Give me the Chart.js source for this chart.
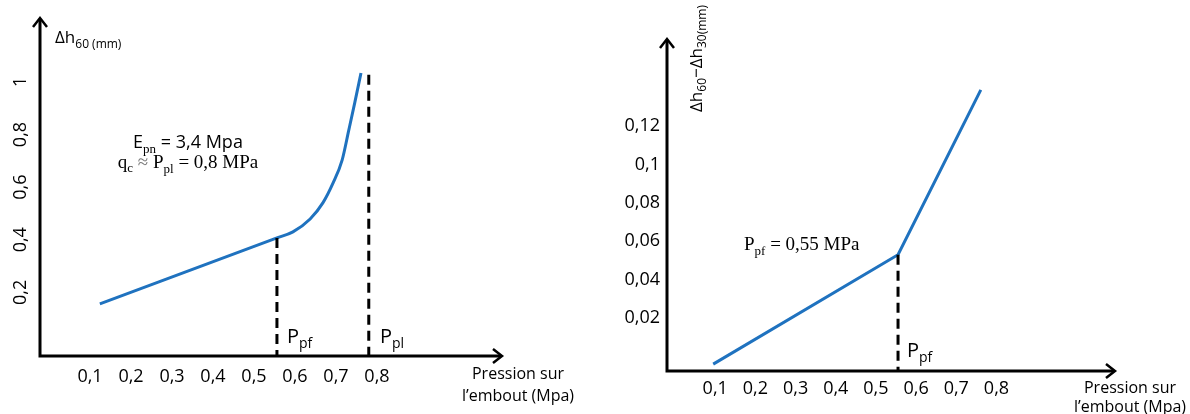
<!DOCTYPE html>
<html>
<head>
<meta charset="utf-8">
<script src="https://cdn.jsdelivr.net/npm/chart.js@4.4.1/dist/chart.umd.min.js"></script>
<style>
  body { margin: 0; background: #fff; }
  .wrap { position: absolute; top: 0; width: 595px; height: 414px; }
</style>
</head>
<body>
<div class="wrap" style="left:0"><canvas id="left-chart" width="595" height="414"></canvas></div>
<div class="wrap" style="left:595px"><canvas id="right-chart" width="595" height="414"></canvas></div>
<script>
// values (pressure in MPa)
const leftPressure = [0.124, 0.556, 0.595, 0.637, 0.668, 0.693, 0.715, 0.731, 0.746, 0.761];
const leftSettlement = [0.156, 0.407, 0.430, 0.479, 0.540, 0.616, 0.703, 0.815, 0.922, 1.034];
const leftXTicks = [0.1, 0.2, 0.3, 0.4, 0.5, 0.6, 0.7, 0.8];
const leftYTicks = [0.2, 0.4, 0.6, 0.8, 1];
const leftPpf = 0.556;
const leftPpl = 0.78;

const rightPressure = [0.095, 0.555, 0.761];
const rightDiff = [-0.004, 0.053, 0.139];
const rightXTicks = [0.1, 0.2, 0.3, 0.4, 0.5, 0.6, 0.7, 0.8];
const rightYTicks = [0.02, 0.04, 0.06, 0.08, 0.1, 0.12];
const rightPpf = 0.555;

const SANS = '"Open Sans", sans-serif';
const SERIF = '"Liberation Serif", serif';
const BLUE = '#1f72bf';

const fmt = v => String(v).replace('.', ',');

// text made of pieces (for subscripts)
function drawRich(ctx, x, y, parts, align) {
  let w = 0;
  parts.forEach(p => { ctx.font = p.font; w += ctx.measureText(p.t).width; });
  let cx = align === 'center' ? x - w / 2 : align === 'right' ? x - w : x;
  ctx.textAlign = 'left';
  ctx.textBaseline = 'alphabetic';
  parts.forEach(p => {
    ctx.font = p.font;
    ctx.fillStyle = p.color || '#000';
    ctx.fillText(p.t, cx, y + (p.dy || 0));
    cx += ctx.measureText(p.t).width;
  });
}

function arrowHead(ctx, x, y, dir) {
  ctx.beginPath();
  if (dir === 'up') {
    ctx.moveTo(x - 7, y + 9); ctx.lineTo(x, y); ctx.lineTo(x + 7, y + 9);
  } else {
    ctx.moveTo(x - 9, y - 7); ctx.lineTo(x, y); ctx.lineTo(x - 9, y + 7);
  }
  ctx.stroke();
}

const sketchPlugin = {
  id: 'sketch',
  afterDraw(chart, args, opts) {
    const ctx = chart.ctx;
    const a = chart.chartArea;
    const xs = chart.scales.x, ys = chart.scales.y;
    ctx.save();
    ctx.strokeStyle = '#000';
    ctx.lineWidth = 3;
    ctx.lineCap = 'butt';
    // dashed markers
    ctx.setLineDash([10, 6]);
    (opts.dashes || []).forEach(d => {
      const px = xs.getPixelForValue(d.x);
      ctx.beginPath();
      ctx.moveTo(px, ys.getPixelForValue(d.from));
      ctx.lineTo(px, a.bottom);
      ctx.stroke();
    });
    ctx.setLineDash([]);
    // axes with arrows
    ctx.beginPath();
    ctx.moveTo(a.left, a.top + 1);
    ctx.lineTo(a.left, a.bottom);
    ctx.lineTo(a.right - 1, a.bottom);
    ctx.stroke();
    ctx.lineWidth = 2.5;
    arrowHead(ctx, a.left, a.top, 'up');
    arrowHead(ctx, a.right, a.bottom, 'right');
    // texts
    (opts.texts || []).forEach(t => {
      if (t.rotate) {
        ctx.save();
        ctx.translate(t.x, t.y);
        ctx.rotate(-Math.PI / 2);
        drawRich(ctx, 0, 0, t.parts, t.align || 'left');
        ctx.restore();
      } else {
        drawRich(ctx, t.x, t.y, t.parts, t.align || 'left');
      }
    });
    ctx.restore();
  }
};

function makeChart(id, cfg) {
  return new Chart(document.getElementById(id), {
    type: 'scatter',
    data: {
      datasets: [{
        data: cfg.xs.map((x, i) => ({ x: x, y: cfg.ys[i] })),
        showLine: true,
        borderColor: BLUE,
        borderWidth: 3,
        pointRadius: 0,
        cubicInterpolationMode: cfg.smooth ? 'monotone' : 'default',
        tension: 0,
        clip: false
      }]
    },
    options: {
      responsive: false,
      devicePixelRatio: 1,
      animation: false,
      events: [],
      layout: { padding: cfg.padding },
      plugins: { legend: { display: false }, tooltip: { enabled: false }, sketch: cfg.sketch },
      scales: {
        x: {
          type: 'linear', min: cfg.xMin, max: cfg.xMax,
          grid: { display: false, drawTicks: false }, border: { display: false },
          afterBuildTicks: s => { s.ticks = cfg.xTicks.map(v => ({ value: v })); },
          afterFit: s => { s.height = cfg.xHeight; },
          ticks: { autoSkip: false, maxRotation: 0, color: '#000', padding: cfg.xPad,
                   font: { family: SANS, size: 18 }, callback: v => fmt(v) }
        },
        y: {
          type: 'linear', min: cfg.yMin, max: cfg.yMax,
          grid: { display: false, drawTicks: false }, border: { display: false },
          afterBuildTicks: s => { s.ticks = cfg.yTicks.map(v => ({ value: v })); },
          afterFit: s => { s.width = cfg.yWidth; },
          ticks: Object.assign({ autoSkip: false, color: '#000',
                   font: { family: SANS, size: 18 }, callback: v => fmt(v) }, cfg.yTickOpts)
        }
      }
    },
    plugins: [sketchPlugin]
  });
}

const big = s => s + 'px ' + SANS;
const ser = s => s + 'px ' + SERIF;

makeChart('left-chart', {
  xs: leftPressure, ys: leftSettlement, smooth: true,
  xTicks: leftXTicks, yTicks: leftYTicks,
  xMin: -0.022, xMax: 1.105, yMin: -0.042, yMax: 1.243,
  padding: { left: 0, top: 18, right: 93, bottom: 0 },
  xHeight: 58, yWidth: 40, xPad: 10,
  yTickOpts: { minRotation: 90, maxRotation: 90, crossAlign: 'center', padding: 7 },
  sketch: {
    dashes: [{ x: leftPpf, from: 0.407 }, { x: leftPpl, from: 1.027 }],
    texts: [
      { x: 55, y: 43, parts: [{ t: 'Δh', font: big(17) }, { t: '60 (mm)', font: big(12), dy: 5 }] },
      { x: 188, y: 148, align: 'center', parts: [
        { t: 'E', font: big(18) }, { t: 'pn', font: ser(13), dy: 5 }, { t: ' = 3,4 Mpa', font: big(18) }] },
      { x: 188, y: 168, align: 'center', parts: [
        { t: 'q', font: ser(19) }, { t: 'c', font: ser(13), dy: 4 }, { t: ' ≈ ', font: ser(19), color: '#777' },
        { t: 'P', font: ser(19) }, { t: 'pl', font: ser(13), dy: 5 }, { t: ' = 0,8 MPa', font: ser(19) }] },
      { x: 287, y: 343, parts: [{ t: 'P', font: big(20) }, { t: 'pf', font: big(14), dy: 5 }] },
      { x: 380, y: 343, parts: [{ t: 'P', font: big(20) }, { t: 'pl', font: big(14), dy: 5 }] },
      { x: 518, y: 379, align: 'center', parts: [{ t: 'Pression sur', font: big(16) }] },
      { x: 518, y: 401, align: 'center', parts: [{ t: 'l’embout (Mpa)', font: big(16) }] }
    ]
  }
});

makeChart('right-chart', {
  xs: rightPressure, ys: rightDiff, smooth: false,
  xTicks: rightXTicks, yTicks: rightYTicks,
  xMin: -0.02, xMax: 1.095, yMin: -0.0076, yMax: 0.1655,
  padding: { left: 0, top: 39, right: 75, bottom: 0 },
  xHeight: 43, yWidth: 72, xPad: 7,
  yTickOpts: { padding: 7 },
  sketch: {
    dashes: [{ x: rightPpf, from: 0.053 }],
    texts: [
      { x: 107, y: 112, rotate: true, parts: [
        { t: 'Δh', font: big(17) }, { t: '60', font: big(12), dy: 4 },
        { t: '−Δh', font: big(17) }, { t: '30(mm)', font: big(12), dy: 4 }] },
      { x: 149, y: 250, parts: [
        { t: 'P', font: ser(19) }, { t: 'pf', font: ser(13), dy: 5 }, { t: ' = 0,55 MPa', font: ser(19) }] },
      { x: 312, y: 357, parts: [{ t: 'P', font: big(20) }, { t: 'pf', font: big(14), dy: 5 }] },
      { x: 535, y: 393, align: 'center', parts: [{ t: 'Pression sur', font: big(16) }] },
      { x: 535, y: 412, align: 'center', parts: [{ t: 'l’embout (Mpa)', font: big(16) }] }
    ]
  }
});
</script>
</body>
</html>
